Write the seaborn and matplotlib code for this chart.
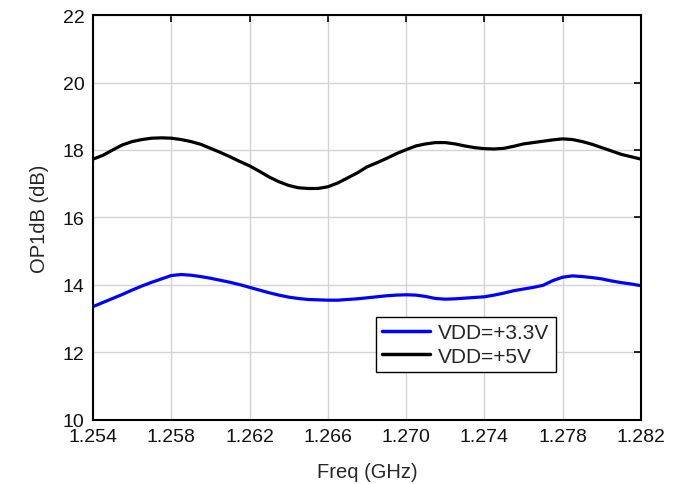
#!/usr/bin/env python3

import numpy as np
from matplotlib import pyplot as plt
import seaborn as sns
import pandas as pd


freq_ghz = [
    1.2540, 1.2545, 1.2550, 1.2555, 1.2560, 1.2565, 1.2570, 1.2575, 1.2580, 1.2585,
    1.2590, 1.2595, 1.2600, 1.2605, 1.2610, 1.2615, 1.2620, 1.2625, 1.2630, 1.2635,
    1.2640, 1.2645, 1.2650, 1.2655, 1.2660, 1.2665, 1.2670, 1.2675, 1.2680, 1.2685,
    1.2690, 1.2695, 1.2700, 1.2705, 1.2710, 1.2715, 1.2720, 1.2725, 1.2730, 1.2735,
    1.2740, 1.2745, 1.2750, 1.2755, 1.2760, 1.2765, 1.2770, 1.2775, 1.2780, 1.2785,
    1.2790, 1.2795, 1.2800, 1.2805, 1.2810, 1.2815, 1.2820,
]
op1db_3v3 = [
    13.36, 13.48, 13.60, 13.72, 13.85, 13.97, 14.08, 14.18, 14.28, 14.31,
    14.29, 14.25, 14.20, 14.14, 14.08, 14.01, 13.93, 13.85, 13.77, 13.70,
    13.64, 13.60, 13.57, 13.56, 13.55, 13.55, 13.57, 13.59, 13.62, 13.65,
    13.68, 13.70, 13.71, 13.70, 13.66, 13.60, 13.58, 13.59, 13.61, 13.63,
    13.65, 13.70, 13.76, 13.83, 13.88, 13.93, 13.99, 14.13, 14.23, 14.27,
    14.25, 14.22, 14.18, 14.12, 14.07, 14.03, 13.98,
]
op1db_5v = [
    17.73, 17.84, 18.00, 18.15, 18.25, 18.31, 18.35, 18.36, 18.35, 18.31,
    18.25, 18.17, 18.05, 17.93, 17.80, 17.66, 17.53, 17.37, 17.20, 17.06,
    16.95, 16.88, 16.86, 16.86, 16.91, 17.02, 17.17, 17.32, 17.50, 17.62,
    17.75, 17.89, 18.01, 18.12, 18.18, 18.22, 18.22, 18.18, 18.12, 18.07,
    18.04, 18.03, 18.05, 18.11, 18.18, 18.22, 18.26, 18.30, 18.33, 18.31,
    18.25, 18.17, 18.07, 17.97, 17.87, 17.80, 17.73,
]
series_names = ["VDD=+3.3V", "VDD=+5V"]
x_ticks = [1.254, 1.258, 1.262, 1.266, 1.270, 1.274, 1.278, 1.282]
y_ticks = [10, 12, 14, 16, 18, 20, 22]

freq_title = "Freq (GHz)"
op1db_title = "OP1dB (dB)"
series_title = "Series"


def make_df():
    parts = []
    for name, vals in zip(series_names, [op1db_3v3, op1db_5v]):
        parts.append(
            pd.DataFrame({freq_title: freq_ghz, op1db_title: vals, series_title: name})
        )
    return pd.concat(parts, ignore_index=True)


def main():
    sns.set_theme(style="whitegrid")
    plt.rcParams["font.family"] = ["Liberation Sans", "DejaVu Sans"]
    fig = plt.figure(figsize=(6.84, 4.85), dpi=100)
    ax = fig.add_axes([0.136, 0.132, 0.801, 0.835])

    df = make_df()
    sns.lineplot(
        data=df, x=freq_title, y=op1db_title, hue=series_title,
        palette={"VDD=+3.3V": "#0000ff", "VDD=+5V": "#000000"},
        linewidth=2.3, ax=ax,
    )

    ax.set_xlim(1.254, 1.282)
    ax.set_ylim(10, 22)
    ax.set_xticks(x_ticks)
    ax.set_xticklabels([f"{t:.3f}" for t in x_ticks])
    ax.set_yticks(y_ticks)
    ax.grid(True, color="#d4d4d4", linewidth=1.0)
    for s in ax.spines.values():
        s.set_color("black")
        s.set_linewidth(1.5)
    ax.tick_params(direction="in", length=5, width=1.2, color="black",
                   labelsize=14, labelcolor="#111111", top=True, right=True, pad=6)
    ax.set_xlabel(freq_title, fontsize=14.5, labelpad=12)
    ax.set_ylabel(op1db_title, fontsize=14.5, labelpad=10)

    leg = ax.legend(
        loc="upper left", bbox_to_anchor=(0.516, 0.254), borderaxespad=0,
        frameon=True, fancybox=False, edgecolor="black", framealpha=1,
        handlelength=2.3, borderpad=0.3, labelspacing=0.2, handletextpad=0.4,
        prop={"size": 15},
    )
    leg.get_frame().set_linewidth(1.0)
    for line in leg.get_lines():
        line.set_linewidth(2.5)

    fig.savefig("out.png", dpi=100)


if __name__ == "__main__":
    main()
